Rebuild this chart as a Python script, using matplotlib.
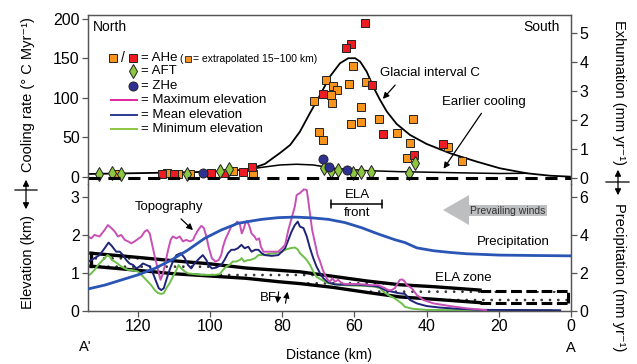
"""Cooling rate / exhumation vs. topography, precipitation and ELA along A'-A."""
import matplotlib
matplotlib.use("Agg")
import matplotlib.pyplot as plt
from matplotlib.patches import Polygon, FancyArrowPatch

plt.rcParams["font.family"] = ["Liberation Sans", "DejaVu Sans"]
plt.rcParams["hatch.linewidth"] = 0.7

# ---------------- top panel: thermochronology (distance km, cooling rate degC/Myr)
ahe_ext_dist = [60.5, 67.9, 66.0, 64.7, 61.4, 56.8, 66.5, 71.2, 66.1, 58.3, 53.1, 43.7, 58.3,
                60.9, 69.9, 68.6, 48.3, 44.6, 34.2, 45.3, 30.2, 125.7, 111.8, 108.9, 105.6,
                93.6, 88.1]
ahe_ext_rate = [139.9, 122.8, 115.2, 109.5, 117.5, 120.6, 104.2, 96.2, 94.1, 88.2, 73.0, 73.4,
                70.0, 66.7, 57.3, 46.8, 56.1, 43.4, 37.6, 24.4, 20.6, 3.8, 4.7, 3.8, 3.8, 8.0, 3.8]

ahe_dist = [57.2, 61.0, 62.2, 55.2, 68.8, 52.0, 35.4, 43.4, 88.4, 90.9, 96.1, 99.6, 110.0, 113.3]
ahe_rate = [195.3, 168.4, 162.9, 115.8, 104.4, 54.1, 41.8, 27.8, 12.3, 6.7, 5.4, 4.7, 3.8, 3.8]

aft_dist = [130.8, 127.1, 124.6, 106.5, 97.3, 94.8, 68.3, 66.5, 64.6, 60.3, 58.2, 55.4, 44.9, 43.2]
aft_rate = [3.8, 4.7, 3.8, 3.8, 8.0, 9.7, 11.8, 8.0, 8.9, 4.7, 5.9, 5.9, 4.7, 18.1]

zhe_dist = [102.0, 68.6, 67.0, 62.0]
zhe_rate = [4.7, 22.8, 13.0, 8.9]

glacial_dist = [133.8, 116.6, 102.8, 94.5, 88.9, 84.8, 80.6, 77.8, 75.1, 72.3, 69.5, 66.8, 64.0,
                61.7, 59.8, 58.4, 56.6, 54.8, 52.9, 51.0, 48.3, 44.6, 40.0, 33.5, 26.1, 19.7,
                12.3, 5.8, 0.3]
glacial_rate = [3.8, 5.1, 6.3, 7.6, 10.1, 16.5, 30.4, 40.5, 57.3, 81.0, 103.8, 127.0, 143.9,
                150.3, 150.3, 145.9, 133.3, 114.3, 97.5, 82.7, 67.1, 53.2, 41.8, 30.0, 19.4,
                11.0, 4.7, 1.6, 0.4]

earlier_dist = [88.9, 84.3, 80.6, 76.0, 71.4, 65.8, 56.6, 47.4, 38.1, 28.9, 19.7, 12.3]
earlier_rate = [10.1, 13.0, 15.2, 16.1, 15.2, 11.0, 8.0, 6.7, 5.9, 5.1, 4.4, 4.7]

# ---------------- bottom panel: topography (km), precipitation (mm/yr), ELA zone (km)
max_dist = [133.8, 132.9, 132.0, 130.6, 129.2, 128.3, 127.3, 126.4, 125.5, 124.6, 123.6, 122.7,
            121.8, 120.9, 120.0, 119.0, 118.1, 117.4, 116.7, 116.1, 115.3, 114.4, 113.7, 113.0,
            112.4, 111.6, 110.9, 110.3, 109.3, 108.4, 107.5, 106.6, 105.6, 104.7, 104.3, 103.3,
            102.4, 101.7, 101.0, 100.4, 99.5, 98.5, 97.6, 96.9, 96.4, 95.8, 95.0, 94.1, 93.2,
            92.5, 91.8, 91.2, 90.6, 90.2, 89.8, 89.2, 88.5, 87.7, 87.1, 86.4, 85.9, 85.2, 84.3,
            82.9, 81.1, 80.1, 79.2, 78.3, 77.4, 76.5, 76.0, 75.1, 74.0, 73.2, 72.8, 72.3, 71.7,
            70.9, 70.2, 69.5, 68.9, 68.2, 67.4, 66.8, 66.1, 65.4, 64.5, 63.5, 62.6, 58.9, 55.2,
            53.4, 52.5, 51.5, 50.6, 49.7, 48.8, 48.0, 47.4, 46.7, 46.0, 45.5, 44.1, 42.7, 40.9,
            38.1, 33.5, 28.9, 25.2, 23.5]
max_elev = [1.96, 1.91, 2.00, 1.96, 2.13, 2.26, 2.18, 2.09, 1.96, 2.00, 1.87, 1.83,
            1.78, 1.83, 1.89, 1.96, 2.09, 2.13, 2.04, 1.78, 1.43, 1.08, 0.82, 0.99,
            1.25, 1.61, 1.87, 1.96, 1.91, 1.96, 1.83, 1.87, 1.83, 1.87, 1.96, 2.13,
            2.24, 2.18, 1.96, 1.69, 1.39, 1.30, 1.34, 1.47, 1.69, 1.87, 2.04, 2.22, 2.26,
            2.35, 2.31, 2.04, 2.18, 2.31, 2.37, 2.26, 2.04, 1.96, 1.87, 1.91, 1.69, 1.56, 1.56,
            1.56, 1.56, 1.65, 1.74, 2.13, 2.44, 2.75, 3.05, 3.10, 3.20, 3.18, 2.92, 2.55, 2.13,
            1.78, 1.47, 1.30, 1.12, 0.95, 0.82, 0.77, 0.86, 0.77, 0.82, 0.73, 0.71, 0.71, 0.68,
            0.68, 0.64, 0.60, 0.55, 0.55, 0.60, 0.73, 0.82, 0.83, 0.77, 0.68, 0.60, 0.42, 0.29,
            0.20, 0.13, 0.07, 0.04, 0.02]

mean_dist = [133.8, 132.9, 132.0, 130.6, 129.2, 128.1, 127.2, 126.0, 125.0, 124.1, 123.2, 122.3,
             121.3, 120.4, 119.5, 118.6, 117.6, 116.7, 115.8, 114.9, 114.2, 113.5, 112.8, 112.1,
             111.2, 110.3, 109.3, 108.1, 107.0, 106.1, 105.2, 104.3, 102.9, 102.0, 101.0, 100.4,
             99.5, 98.3, 96.9, 96.0, 95.0, 94.1, 93.2, 92.3, 91.3, 90.4, 89.4, 88.5, 87.5, 86.6,
             85.7, 84.8, 82.9, 81.1, 80.1, 79.2, 78.3, 77.4, 76.5, 75.7, 75.1, 74.1, 73.2, 72.3,
             71.4, 70.5, 69.5, 68.6, 67.2, 65.4, 62.6, 58.9, 55.2, 53.4, 52.5, 51.5, 49.7, 47.8,
             46.0, 44.6, 42.7, 40.0, 36.3, 31.7, 25.0, 3.0]
mean_elev = [1.30, 1.34, 1.39, 1.47, 1.65, 1.80, 1.71, 1.56, 1.56, 1.47, 1.34, 1.25,
             1.21, 1.12, 1.17, 1.25, 1.21, 1.17, 0.99, 0.77, 0.60, 0.55, 0.60, 0.82,
             1.08, 1.30, 1.47, 1.52, 1.39, 1.21, 1.12, 1.25, 1.39, 1.47, 1.34, 1.21,
             1.12, 1.14, 1.21, 1.34, 1.52, 1.61, 1.61, 1.65, 1.74, 1.65, 1.69, 1.56, 1.61, 1.61,
             1.52, 1.47, 1.45, 1.47, 1.56, 1.65, 1.87, 2.09, 2.26, 2.35, 2.22, 2.18, 1.96, 1.65,
             1.39, 1.17, 0.99, 0.86, 0.75, 0.70, 0.69, 0.69, 0.66, 0.64, 0.60, 0.55, 0.51, 0.47,
             0.45, 0.29, 0.20, 0.13, 0.09, 0.06, 0.03, 0.02]

min_dist = [133.8, 132.9, 132.0, 131.0, 130.1, 129.2, 128.4, 127.8, 127.2, 126.4, 125.5, 124.6,
            123.6, 122.7, 121.8, 120.9, 120.0, 119.0, 118.1, 117.2, 116.3, 115.3, 114.4, 113.5,
            112.8, 112.1, 111.2, 110.3, 109.3, 108.7, 108.0, 107.0, 106.1, 104.3, 102.4, 100.6,
            98.7, 97.3, 96.4, 95.5, 94.6, 93.7, 92.7, 91.8, 91.2, 90.6, 89.5, 88.9, 87.5, 86.6,
            85.2, 83.8, 82.0, 80.1, 79.2, 77.8, 76.5, 75.7, 75.1, 74.1, 73.2, 72.3, 71.4, 70.5,
            69.1, 67.2, 64.5, 60.8, 57.1, 54.3, 52.9, 52.0, 50.6, 48.8, 46.9, 46.0, 44.0, 40.0,
            30.0, 5.5]
min_elev = [0.92, 0.99, 1.08, 1.21, 1.30, 1.39, 1.47, 1.43, 1.34, 1.30, 1.24, 1.17,
            1.12, 1.08, 1.08, 1.06, 1.04, 0.95, 0.86, 0.77, 0.68, 0.55, 0.47, 0.45,
            0.47, 0.60, 0.73, 0.90, 1.08, 1.21, 1.12, 1.04, 0.99, 0.97, 0.95, 0.95,
            0.95, 0.97, 1.08, 1.17, 1.21, 1.30, 1.30, 1.34, 1.39, 1.30, 1.34, 1.34, 1.39, 1.47,
            1.47, 1.50, 1.52, 1.56, 1.61, 1.65, 1.67, 1.62, 1.52, 1.43, 1.34, 1.21, 1.04, 0.90,
            0.82, 0.73, 0.69, 0.67, 0.66, 0.64, 0.60, 0.51, 0.42, 0.33, 0.20, 0.11, 0.06, 0.03,
            0.02, 0.02]

precip_dist = [133.8, 129.2, 124.6, 120.0, 115.3, 110.7, 106.1, 101.5, 96.9, 92.3, 88.0, 85.7,
               81.1, 76.5, 71.8, 67.2, 62.6, 58.0, 53.4, 48.8, 46.0, 42.7, 38.1, 33.5, 28.9,
               19.7, 10.4, 0.0]
precip = [1.16, 1.36, 1.63, 1.90, 2.24, 2.68, 3.21, 3.82, 4.26, 4.61, 4.75, 4.82,
          4.91, 4.94, 4.90, 4.82, 4.65, 4.38, 4.05, 3.75, 3.60, 3.32, 3.17, 3.08, 3.01,
          2.94, 2.92, 2.90]

ela_dist = [133.0, 120.0, 110.0, 100.0, 90.0, 81.0, 75.0, 65.8, 56.6, 47.4, 38.1, 25.2]
ela_top = [1.52, 1.41, 1.32, 1.24, 1.13, 1.07, 1.03, 0.91, 0.79, 0.69, 0.64, 0.55]
ela_bottom = [1.18, 1.07, 0.98, 0.92, 0.86, 0.77, 0.72, 0.62, 0.49, 0.37, 0.31, 0.22]
ela_proj_dist = [25.2, 0.7]
ela_proj_top = [0.53, 0.53]
ela_proj_bottom = [0.21, 0.21]

DIST_TICKS = [0, 20, 40, 60, 80, 100, 120]

ORANGE = "#f7941d"
RED = "#ed1c24"
GREEN = "#8dc63f"
ZBLUE = "#2e3192"
MAGENTA = "#c84fb5"
NAVY = "#1f2478"
LGREEN = "#6cc04a"
PBLUE = "#2a55b5"
SPINE = "#555555"

W, H = 637, 364


def fx(px):
    return px / W


def fy(py):
    return 1 - py / H


fig = plt.figure(figsize=(W / 100, H / 100), dpi=100)
ax_top = fig.add_axes([fx(88), fy(184), (571 - 88) / W, (184 - 15) / H])
ax_bot = fig.add_axes([fx(88), fy(311), (571 - 88) / W, (311 - 184) / H])
ax_exh = ax_top.twinx()
ax_prc = ax_bot.twinx()

for ax in (ax_top, ax_bot, ax_exh, ax_prc):
    ax.set_xlim(133.8, 0)
    for s in ax.spines.values():
        s.set_color(SPINE)
        s.set_linewidth(0.9)
    ax.tick_params(direction="out", length=4, width=0.9, color=SPINE,
                   labelsize=11.5, pad=2)

for ax in (ax_top, ax_exh):
    ax.spines["bottom"].set_visible(False)
    ax.set_xticks([])
for ax in (ax_bot, ax_prc):
    ax.spines["top"].set_visible(False)

# ---- top panel
ax_top.set_ylim(-8.9, 205)
ax_top.set_yticks([0, 50, 100, 150, 200])
ax_exh.set_ylim(-0.207, 5.62)
ax_exh.set_yticks([0, 1, 2, 3, 4, 5])

ax_exh.axhline(0, color="k", lw=2.2, ls=(0, (4, 2.5)), zorder=1)
ax_top.plot(glacial_dist, glacial_rate, color="k", lw=1.3, zorder=2)
ax_top.plot(earlier_dist, earlier_rate, color="k", lw=1.1, zorder=2)

mk = dict(ls="none", markeredgecolor="#222222", markeredgewidth=0.7, zorder=4)
ax_top.plot(ahe_ext_dist, ahe_ext_rate, marker="s", ms=6, color=ORANGE, **mk)
ax_top.plot(ahe_dist, ahe_rate, marker="s", ms=6, color=RED, **mk)
ax_top.plot(aft_dist, aft_rate, marker="d", ms=7, color=GREEN, **mk)
ax_top.plot(zhe_dist, zhe_rate, marker="o", ms=6.5, color=ZBLUE, **mk)

# ---- bottom panel
ax_bot.set_ylim(0, 3.34)
ax_bot.set_yticks([0, 1, 2, 3])
ax_prc.set_ylim(0, 6.68)
ax_prc.set_yticks([0, 2, 4, 6])
ax_bot.set_xticks(DIST_TICKS)

ax_bot.fill_between(ela_dist, ela_bottom, ela_top, facecolor="white", edgecolor="#333333",
                    hatch="..", linewidth=0, zorder=1)
ax_bot.fill_between(ela_proj_dist, ela_proj_bottom, ela_proj_top, facecolor="white",
                    edgecolor="#333333", hatch="..", linewidth=0, zorder=1)
ax_bot.plot(ela_dist, ela_top, color="k", lw=2.4, zorder=2)
ax_bot.plot(ela_dist, ela_bottom, color="k", lw=2.4, zorder=2)
ax_bot.plot([ela_dist[0], ela_dist[0]], [ela_bottom[0], ela_top[0]], color="k", lw=2.4, zorder=2)
dash = (0, (3.5, 1.5))
ax_bot.plot(ela_proj_dist, ela_proj_top, color="k", lw=2.2, ls=dash, zorder=2)
ax_bot.plot(ela_proj_dist, ela_proj_bottom, color="k", lw=2.2, ls=dash, zorder=2)
ax_bot.plot([ela_proj_dist[-1]] * 2, [ela_proj_bottom[-1], ela_proj_top[-1]],
            color="k", lw=2.2, ls=dash, zorder=2)

ax_bot.plot(min_dist, min_elev, color=LGREEN, lw=1.4, zorder=3)
ax_bot.plot(mean_dist, mean_elev, color=NAVY, lw=1.4, zorder=3)
ax_bot.plot(max_dist, max_elev, color=MAGENTA, lw=1.4, zorder=3)
ax_prc.plot(precip_dist, precip, color=PBLUE, lw=2.0, zorder=3)


# ---- text and annotations (figure pixel positions)
def label(px, py, s, size=10, ha="left", va="center", **kw):
    fig.text(fx(px), fy(py), s, fontsize=size, ha=ha, va=va, **kw)


def arrow(p0, p1, style="-|>", lw=0.9, **kw):
    fig.add_artist(FancyArrowPatch(
        (fx(p0[0]), fy(p0[1])), (fx(p1[0]), fy(p1[1])), transform=fig.transFigure,
        arrowstyle=style, mutation_scale=9, lw=lw, color="k", **kw))


label(28, 95, "Cooling rate (° C Myr⁻¹)", 10.5, ha="center", rotation=90)
label(28, 262, "Elevation (km)", 10.5, ha="center", rotation=90)
label(619, 92, "Exhumation (mm yr⁻¹)", 10.5, ha="center", rotation=270)
label(619, 277, "Precipitation (mm yr⁻¹)", 10.5, ha="center", rotation=270)
arrow((26, 177), (26, 212), style="<|-|>")
arrow((12, 190), (40, 190), style="-")
arrow((618, 167), (618, 198), style="<|-|>")
arrow((603, 182), (632, 182), style="-")

label(85, 347, "A'", 10.5, ha="center")
label(571, 348, "A", 10.5, ha="center")
label(329, 355, "Distance (km)", 10, ha="center")

label(93, 27, "North", 10)
label(560, 27, "South", 10, ha="right")

# legend
ax_top.plot([fx(113)], [fy(58)], transform=fig.transFigure, marker="s", ms=6, color=ORANGE,
            markeredgecolor="#222222", mew=0.7, clip_on=False)
ax_top.plot([fx(133)], [fy(58)], transform=fig.transFigure, marker="s", ms=6, color=RED,
            markeredgecolor="#222222", mew=0.7, clip_on=False)
label(123, 58, "/", 10, ha="center")
label(141, 58, "= AHe", 9.5)
label(179, 59, "(", 7.5)
ax_top.plot([fx(188)], [fy(59)], transform=fig.transFigure, marker="s", ms=5, color=ORANGE,
            markeredgecolor="#222222", mew=0.6, clip_on=False)
label(193, 59, "= extrapolated 15−100 km)", 7.5)
ax_top.plot([fx(133)], [fy(71)], transform=fig.transFigure, marker="d", ms=7, color=GREEN,
            markeredgecolor="#222222", mew=0.7, clip_on=False)
label(141, 71, "= AFT", 9.5)
ax_top.plot([fx(133)], [fy(86)], transform=fig.transFigure, marker="o", ms=6.5, color=ZBLUE,
            markeredgecolor="#222222", mew=0.7, clip_on=False)
label(141, 86, "= ZHe", 9.5)
for py, c, s in [(100, "#e0259c", "= Maximum elevation"), (115, "#2b3990", "= Mean elevation"),
                 (129, GREEN, "= Minimum elevation")]:
    ax_top.plot([fx(111), fx(137)], [fy(py), fy(py)], transform=fig.transFigure, color=c,
                lw=1.4, clip_on=False)
    label(141, py, s, 9.5)

label(380, 73, "Glacial interval C", 9.5)
arrow((397, 83), (381, 101))
label(442, 102, "Earlier cooling", 9.5)
arrow((483, 111), (442, 171))

label(135, 207, "Topography", 9.5)
arrow((179, 217), (195, 232))
label(357, 195, "ELA", 9.5, ha="center")
label(357, 213, "front", 9.5, ha="center")
arrow((328, 204), (385, 204), style="|-|, widthA=0.35, widthB=0.35", lw=1.1)

fig.add_artist(Polygon([(fx(443), fy(210)), (fx(469), fy(195)), (fx(469), fy(205)),
                        (fx(547), fy(205)), (fx(547), fy(216)), (fx(469), fy(216)),
                        (fx(469), fy(225))], closed=True, transform=fig.transFigure,
                       facecolor="#bcbec0", edgecolor="none"))
label(508, 211, "Prevailing winds", 7.5, ha="center", color="#333333")
label(477, 242, "Precipitation", 9.5)
label(435, 278, "ELA zone", 9.5)
label(260, 298, "BF", 9.5)
arrow((279, 289), (277, 306), style="-|>", lw=0.8)
arrow((285, 306), (288, 289), style="-|>", lw=0.8)

fig.savefig("out.png", dpi=100)
